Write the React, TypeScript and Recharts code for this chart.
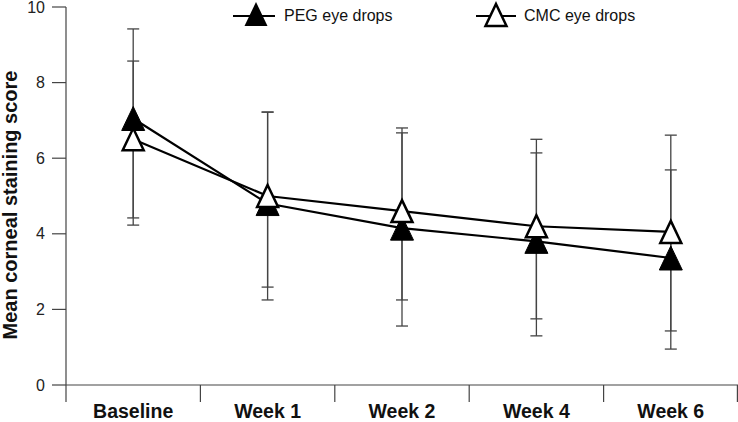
import React from 'react';
import { LineChart, Line, XAxis, YAxis, ErrorBar, Legend, Label } from 'recharts';

const categories = ['Baseline', 'Week 1', 'Week 2', 'Week 4', 'Week 6'];
const pegMean = [7.05, 4.8, 4.15, 3.8, 3.36];
const pegLow = [4.23, 2.25, 1.56, 1.3, 0.95];
const pegHigh = [9.42, 7.22, 6.67, 6.14, 5.69];
const cmcMean = [6.5, 5.0, 4.6, 4.2, 4.05];
const cmcLow = [4.42, 2.59, 2.25, 1.75, 1.43];
const cmcHigh = [8.57, 7.22, 6.8, 6.5, 6.61];
const yTicks = [0, 2, 4, 6, 8, 10];
const seriesNames = ['PEG eye drops', 'CMC eye drops'];

const data = categories.map((cat, i) => ({
  cat,
  peg: pegMean[i],
  pegErr: [pegMean[i] - pegLow[i], pegHigh[i] - pegMean[i]],
  cmc: cmcMean[i],
  cmcErr: [cmcMean[i] - cmcLow[i], cmcHigh[i] - cmcMean[i]],
}));

const FONT = "'Liberation Sans', Arial, Helvetica, sans-serif";
const AXIS = '#444';

const triPoints = (cx: number, cy: number, w = 23, h = 24) =>
  `${cx},${cy - h / 2} ${cx + w / 2},${cy + h / 2} ${cx - w / 2},${cy + h / 2}`;

const FilledTri = (props: any) => {
  const { cx, cy, index } = props;
  if (cx == null || cy == null) return <g key={`pf-${index}`} />;
  return <polygon key={`pf-${index}`} points={triPoints(cx, cy)} fill="#000" stroke="#000" strokeWidth={1} />;
};

const OpenTri = (props: any) => {
  const { cx, cy, index } = props;
  if (cx == null || cy == null) return <g key={`po-${index}`} />;
  return (
    <polygon
      key={`po-${index}`}
      points={triPoints(cx, cy, 21, 22)}
      fill="#fff"
      stroke="#000"
      strokeWidth={2.5}
      strokeLinejoin="miter"
    />
  );
};

const XTick = (props: any) => {
  const { x, y, payload, index } = props;
  const half = payload && typeof payload.offset === 'number' && payload.offset > 0 ? payload.offset : 67.2;
  return (
    <g>
      <line x1={x - half} x2={x - half} y1={y - 17} y2={y} stroke={AXIS} strokeWidth={1.2} />
      {index === categories.length - 1 && (
        <line x1={x + half - 0.6} x2={x + half - 0.6} y1={y - 17} y2={y} stroke={AXIS} strokeWidth={1.2} />
      )}
      <text x={x} y={y + 16} textAnchor="middle" fontFamily={FONT} fontWeight="bold" fontSize={19.5} fill="#111">
        {payload.value}
      </text>
    </g>
  );
};

const LegendContent = () => (
  <svg width={738} height={30} style={{ display: 'block' }}>
    <line x1={233} x2={275} y1={16} y2={16} stroke="#000" strokeWidth={2} />
    <polygon points={triPoints(256, 14)} fill="#000" />
    <text x={284} y={21} fontFamily={FONT} fontSize={16} fill="#111">{seriesNames[0]}</text>
    <line x1={476} x2={516} y1={16} y2={16} stroke="#000" strokeWidth={2} />
    <polygon points={triPoints(496, 15, 21, 22)} fill="#fff" stroke="#000" strokeWidth={2.5} />
    <text x={524} y={21} fontFamily={FONT} fontSize={16} fill="#111">{seriesNames[1]}</text>
  </svg>
);

const YLabel = () => (
  <text
    transform="translate(16.5,205) rotate(-90)"
    textAnchor="middle"
    fontFamily={FONT}
    fontWeight="bold"
    fontSize={20}
    fill="#111"
  >
    Mean corneal staining score
  </text>
);

export default function App() {
  return (
    <div style={{ position: 'absolute', left: 0, top: 0, width: 738, height: 422, background: '#fff' }}>
      <LineChart width={738} height={422} data={data} margin={{ top: 7, right: 0, bottom: 0, left: 0 }}>
        <XAxis
          dataKey="cat"
          type="category"
          scale="band"
          height={37}
          interval={0}
          axisLine={{ stroke: AXIS, strokeWidth: 1.2 }}
          tickLine={false}
          tickSize={17}
          tickMargin={0}
          tick={<XTick />}
        />
        <YAxis
          width={66}
          domain={[0, 10]}
          ticks={yTicks}
          interval={0}
          axisLine={{ stroke: AXIS, strokeWidth: 1.2 }}
          tickLine={{ stroke: AXIS, strokeWidth: 1.2 }}
          tickSize={14}
          tickMargin={7}
          tick={{ fontSize: 16, fill: '#222', fontFamily: FONT }}
        >
          <Label content={<YLabel />} />
        </YAxis>
        <Legend
          layout="horizontal"
          verticalAlign="middle"
          align="center"
          wrapperStyle={{ top: 0, left: 0, width: 738, height: 30 }}
          content={<LegendContent />}
        />
        <Line dataKey="peg" stroke="none" dot={false} activeDot={false} legendType="none" isAnimationActive={false}>
          <ErrorBar dataKey="pegErr" width={6} stroke="#444" strokeWidth={1.3} direction="y" />
        </Line>
        <Line dataKey="cmc" stroke="none" dot={false} activeDot={false} legendType="none" isAnimationActive={false}>
          <ErrorBar dataKey="cmcErr" width={6} stroke="#444" strokeWidth={1.3} direction="y" />
        </Line>
        <Line
          name={seriesNames[0]}
          dataKey="peg"
          stroke="#000"
          strokeWidth={2.2}
          dot={<FilledTri />}
          activeDot={false}
          isAnimationActive={false}
        />
        <Line
          name={seriesNames[1]}
          dataKey="cmc"
          stroke="#000"
          strokeWidth={2.2}
          dot={<OpenTri />}
          activeDot={false}
          isAnimationActive={false}
        />
      </LineChart>
    </div>
  );
}
